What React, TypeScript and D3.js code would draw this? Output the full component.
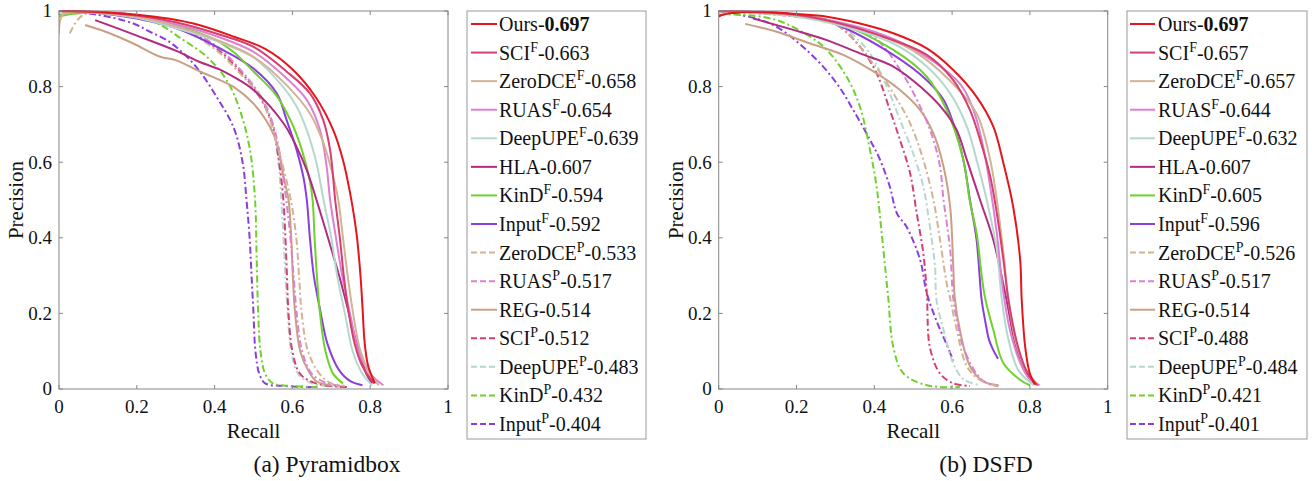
import * as d3 from "d3";

type Pt = [number, number];

// legend order (same in both panels)
const methodKeys = ["ours", "sciF", "zeroF", "ruasF", "deepF", "hla", "kindF", "inputF", "zeroP", "ruasP", "reg", "sciP", "deepP", "kindP", "inputP"];
const methodNames = ["Ours", "SCI", "ZeroDCE", "RUAS", "DeepUPE", "HLA", "KinD", "Input", "ZeroDCE", "RUAS", "REG", "SCI", "DeepUPE", "KinD", "Input"];
const methodSup = ["", "F", "F", "F", "F", "", "F", "F", "P", "P", "", "P", "P", "P", "P"];

const scoresPyramid = ["0.697", "0.663", "0.658", "0.654", "0.639", "0.607", "0.594", "0.592", "0.533", "0.517", "0.514", "0.512", "0.483", "0.432", "0.404"];
const scoresDSFD = ["0.697", "0.657", "0.657", "0.644", "0.632", "0.607", "0.605", "0.596", "0.526", "0.517", "0.514", "0.488", "0.484", "0.421", "0.401"];

// ---- (a) Pyramidbox: [recall, precision]
const oursA: Pt[] = [[0, 1], [0.1, 0.998], [0.2, 0.99], [0.28, 0.98], [0.36, 0.963], [0.45, 0.932], [0.53, 0.9], [0.6, 0.846], [0.66, 0.772], [0.705, 0.685], [0.73, 0.606], [0.748, 0.52], [0.765, 0.41], [0.775, 0.3], [0.78, 0.22], [0.786, 0.12], [0.795, 0.06], [0.812, 0.015]];
const sciFA: Pt[] = [[0, 1], [0.1, 0.997], [0.2, 0.988], [0.3, 0.97], [0.414, 0.937], [0.5, 0.905], [0.585, 0.84], [0.645, 0.782], [0.679, 0.712], [0.697, 0.632], [0.71, 0.5], [0.722, 0.4], [0.732, 0.3], [0.745, 0.2], [0.76, 0.12], [0.78, 0.06], [0.81, 0.015]];
const zeroFA: Pt[] = [[0, 0.94], [0.01, 0.99], [0.1, 0.995], [0.2, 0.985], [0.3, 0.96], [0.414, 0.92], [0.5, 0.879], [0.585, 0.804], [0.645, 0.729], [0.68, 0.65], [0.705, 0.562], [0.718, 0.5], [0.73, 0.4], [0.742, 0.3], [0.756, 0.2], [0.775, 0.1], [0.8, 0.04], [0.822, 0.01]];
const ruasFA: Pt[] = [[0, 1], [0.1, 0.996], [0.2, 0.985], [0.3, 0.965], [0.414, 0.93], [0.5, 0.892], [0.585, 0.822], [0.637, 0.765], [0.671, 0.685], [0.688, 0.588], [0.697, 0.5], [0.712, 0.4], [0.728, 0.3], [0.748, 0.2], [0.77, 0.1], [0.8, 0.04], [0.834, 0.01]];
const deepFA: Pt[] = [[0, 1], [0.1, 0.995], [0.2, 0.982], [0.3, 0.955], [0.414, 0.917], [0.5, 0.877], [0.568, 0.809], [0.611, 0.747], [0.637, 0.685], [0.662, 0.597], [0.68, 0.5], [0.7, 0.4], [0.715, 0.3], [0.735, 0.2], [0.755, 0.1], [0.78, 0.04], [0.805, 0.01]];
const hlaA: Pt[] = [[0.093, 0.976], [0.2, 0.935], [0.3, 0.895], [0.362, 0.865], [0.414, 0.845], [0.45, 0.825], [0.5, 0.791], [0.577, 0.703], [0.611, 0.64], [0.637, 0.579], [0.662, 0.5], [0.697, 0.381], [0.72, 0.3], [0.74, 0.222], [0.76, 0.14], [0.774, 0.09], [0.79, 0.04], [0.805, 0.015]];
const kindFA: Pt[] = [[0, 0.985], [0.05, 0.995], [0.2, 0.985], [0.3, 0.962], [0.4, 0.925], [0.45, 0.89], [0.5, 0.84], [0.56, 0.775], [0.6, 0.7], [0.625, 0.63], [0.645, 0.55], [0.652, 0.5], [0.657, 0.4], [0.663, 0.3], [0.671, 0.2], [0.685, 0.1], [0.705, 0.04], [0.73, 0.015]];
const inputFA: Pt[] = [[0, 1], [0.1, 0.995], [0.2, 0.98], [0.3, 0.955], [0.414, 0.901], [0.5, 0.848], [0.56, 0.782], [0.585, 0.712], [0.611, 0.632], [0.628, 0.562], [0.637, 0.5], [0.645, 0.4], [0.655, 0.3], [0.673, 0.2], [0.69, 0.12], [0.72, 0.05], [0.75, 0.02], [0.78, 0.01]];
const zeroPA: Pt[] = [[0.028, 0.941], [0.063, 0.99], [0.2, 0.985], [0.3, 0.96], [0.4, 0.9], [0.465, 0.835], [0.517, 0.773], [0.542, 0.712], [0.56, 0.65], [0.578, 0.58], [0.596, 0.5], [0.61, 0.4], [0.617, 0.3], [0.624, 0.2], [0.64, 0.1], [0.67, 0.04], [0.7, 0.015], [0.735, 0.008]];
const ruasPA: Pt[] = [[0, 1], [0.2, 0.99], [0.3, 0.965], [0.4, 0.91], [0.47, 0.84], [0.52, 0.77], [0.55, 0.7], [0.568, 0.62], [0.583, 0.51], [0.595, 0.4], [0.603, 0.3], [0.611, 0.2], [0.625, 0.1], [0.65, 0.04], [0.69, 0.015], [0.73, 0.008]];
const regA: Pt[] = [[0.067, 0.963], [0.12, 0.945], [0.191, 0.914], [0.26, 0.879], [0.3, 0.87], [0.362, 0.84], [0.414, 0.817], [0.448, 0.8], [0.5, 0.755], [0.542, 0.694], [0.56, 0.65], [0.577, 0.562], [0.59, 0.5], [0.597, 0.4], [0.601, 0.3], [0.607, 0.2], [0.62, 0.1], [0.64, 0.05], [0.662, 0.02], [0.7, 0.01]];
const sciPA: Pt[] = [[0, 1], [0.2, 0.985], [0.3, 0.96], [0.4, 0.905], [0.47, 0.835], [0.52, 0.765], [0.548, 0.7], [0.563, 0.62], [0.576, 0.51], [0.582, 0.4], [0.586, 0.3], [0.59, 0.2], [0.6, 0.1], [0.62, 0.04], [0.66, 0.015], [0.74, 0.005]];
const deepPA: Pt[] = [[0, 1], [0.2, 0.988], [0.3, 0.962], [0.4, 0.91], [0.475, 0.835], [0.525, 0.765], [0.55, 0.7], [0.562, 0.62], [0.571, 0.51], [0.577, 0.4], [0.582, 0.3], [0.588, 0.2], [0.597, 0.1], [0.615, 0.04], [0.65, 0.015], [0.72, 0.005]];
const kindPA: Pt[] = [[0, 0.99], [0.1, 0.995], [0.234, 0.976], [0.32, 0.923], [0.38, 0.879], [0.431, 0.817], [0.465, 0.738], [0.491, 0.632], [0.504, 0.5], [0.508, 0.35], [0.512, 0.2], [0.518, 0.1], [0.53, 0.04], [0.55, 0.015], [0.6, 0.008], [0.665, 0.005]];
const inputPA: Pt[] = [[0, 1], [0.1, 0.99], [0.191, 0.967], [0.234, 0.945], [0.277, 0.923], [0.32, 0.888], [0.362, 0.84], [0.405, 0.773], [0.448, 0.694], [0.472, 0.6], [0.482, 0.5], [0.49, 0.4], [0.495, 0.3], [0.5, 0.2], [0.505, 0.1], [0.515, 0.04], [0.53, 0.015], [0.58, 0.008], [0.655, 0.005]];

// ---- (b) DSFD
const oursB: Pt[] = [[0, 0.985], [0.01, 0.99], [0.1, 0.998], [0.2, 0.992], [0.278, 0.985], [0.363, 0.967], [0.449, 0.941], [0.535, 0.901], [0.603, 0.844], [0.663, 0.773], [0.706, 0.694], [0.732, 0.597], [0.757, 0.482], [0.775, 0.341], [0.779, 0.235], [0.788, 0.11], [0.8, 0.04], [0.813, 0.012]];
const sciFB: Pt[] = [[0, 1], [0.1, 0.997], [0.2, 0.99], [0.3, 0.97], [0.4, 0.94], [0.535, 0.884], [0.603, 0.817], [0.646, 0.738], [0.672, 0.659], [0.698, 0.562], [0.715, 0.465], [0.732, 0.341], [0.745, 0.235], [0.77, 0.11], [0.795, 0.04], [0.82, 0.01]];
const zeroFB: Pt[] = [[0, 1], [0.2, 0.988], [0.3, 0.968], [0.4, 0.94], [0.5, 0.895], [0.6, 0.81], [0.663, 0.729], [0.698, 0.606], [0.715, 0.5], [0.732, 0.359], [0.745, 0.235], [0.765, 0.12], [0.79, 0.05], [0.82, 0.012]];
const ruasFB: Pt[] = [[0, 1], [0.2, 0.99], [0.3, 0.972], [0.4, 0.945], [0.5, 0.9], [0.62, 0.808], [0.655, 0.738], [0.68, 0.641], [0.698, 0.535], [0.715, 0.412], [0.732, 0.253], [0.75, 0.15], [0.775, 0.07], [0.8, 0.025], [0.825, 0.01]];
const deepFB: Pt[] = [[0, 1], [0.2, 0.985], [0.3, 0.965], [0.449, 0.914], [0.535, 0.853], [0.595, 0.782], [0.638, 0.694], [0.663, 0.606], [0.689, 0.5], [0.715, 0.368], [0.728, 0.235], [0.745, 0.13], [0.77, 0.05], [0.81, 0.01]];
const hlaB: Pt[] = [[0.089, 0.98], [0.192, 0.95], [0.278, 0.923], [0.363, 0.888], [0.449, 0.853], [0.518, 0.8], [0.578, 0.738], [0.612, 0.685], [0.638, 0.606], [0.672, 0.5], [0.706, 0.394], [0.74, 0.235], [0.76, 0.13], [0.785, 0.05], [0.815, 0.012]];
const kindFB: Pt[] = [[0, 1], [0.2, 0.99], [0.3, 0.97], [0.449, 0.897], [0.535, 0.826], [0.586, 0.738], [0.629, 0.606], [0.645, 0.5], [0.663, 0.412], [0.676, 0.3], [0.685, 0.24], [0.706, 0.156], [0.732, 0.068], [0.775, 0.024], [0.8, 0.01]];
const inputFB: Pt[] = [[0, 1], [0.2, 0.99], [0.3, 0.965], [0.449, 0.884], [0.535, 0.817], [0.578, 0.765], [0.603, 0.703], [0.629, 0.606], [0.646, 0.5], [0.663, 0.394], [0.676, 0.235], [0.685, 0.18], [0.695, 0.13], [0.705, 0.105], [0.718, 0.08]];
const zeroPB: Pt[] = [[0, 1], [0.2, 0.99], [0.3, 0.965], [0.398, 0.86], [0.449, 0.782], [0.492, 0.703], [0.526, 0.606], [0.552, 0.5], [0.569, 0.394], [0.586, 0.28], [0.595, 0.24], [0.612, 0.156], [0.638, 0.06], [0.67, 0.025], [0.715, 0.008]];
const ruasPB: Pt[] = [[0, 1], [0.2, 0.99], [0.3, 0.97], [0.4, 0.93], [0.475, 0.83], [0.526, 0.729], [0.552, 0.659], [0.569, 0.588], [0.578, 0.5], [0.595, 0.368], [0.603, 0.24], [0.615, 0.17], [0.629, 0.11], [0.663, 0.04], [0.69, 0.015], [0.719, 0.008]];
const regB: Pt[] = [[0.068, 0.966], [0.149, 0.945], [0.235, 0.914], [0.32, 0.884], [0.406, 0.835], [0.466, 0.791], [0.518, 0.738], [0.552, 0.676], [0.578, 0.588], [0.595, 0.482], [0.603, 0.324], [0.607, 0.24], [0.62, 0.156], [0.646, 0.06], [0.68, 0.02], [0.719, 0.01]];
const sciPB: Pt[] = [[0, 1], [0.2, 0.985], [0.3, 0.965], [0.363, 0.906], [0.406, 0.835], [0.44, 0.738], [0.466, 0.659], [0.492, 0.571], [0.509, 0.465], [0.526, 0.359], [0.535, 0.253], [0.543, 0.11], [0.569, 0.041], [0.603, 0.015], [0.646, 0.008]];
const deepPB: Pt[] = [[0, 1], [0.2, 0.988], [0.3, 0.968], [0.38, 0.9], [0.432, 0.8], [0.466, 0.712], [0.5, 0.623], [0.526, 0.535], [0.543, 0.429], [0.556, 0.324], [0.56, 0.235], [0.578, 0.156], [0.603, 0.068], [0.63, 0.025], [0.672, 0.01]];
const kindPB: Pt[] = [[0, 0.99], [0.063, 0.99], [0.149, 0.976], [0.235, 0.932], [0.278, 0.897], [0.329, 0.826], [0.363, 0.747], [0.389, 0.632], [0.406, 0.535], [0.419, 0.412], [0.432, 0.28], [0.436, 0.24], [0.449, 0.11], [0.475, 0.041], [0.535, 0.01], [0.62, 0.005]];
const inputPB: Pt[] = [[0, 1], [0.132, 0.967], [0.235, 0.888], [0.303, 0.809], [0.346, 0.738], [0.389, 0.659], [0.415, 0.606], [0.44, 0.535], [0.458, 0.465], [0.483, 0.429], [0.518, 0.341], [0.535, 0.253], [0.56, 0.18], [0.585, 0.12], [0.603, 0.075]];

const curvesPyramid = [oursA, sciFA, zeroFA, ruasFA, deepFA, hlaA, kindFA, inputFA, zeroPA, ruasPA, regA, sciPA, deepPA, kindPA, inputPA];
const curvesDSFD = [oursB, sciFB, zeroFB, ruasFB, deepFB, hlaB, kindFB, inputFB, zeroPB, ruasPB, regB, sciPB, deepPB, kindPB, inputPB];

// styling per method
const colorOf: Record<string, string> = {
  Ours: "#e3161c",
  SCI: "#d63f6f",
  ZeroDCE: "#d2b394",
  RUAS: "#dd80d3",
  DeepUPE: "#b5d8ce",
  HLA: "#b12b80",
  KinD: "#6ed22b",
  Input: "#8b3ee0",
  REG: "#c9a084",
};

const FONT = "'Liberation Serif', 'Times New Roman', serif";
const TOP = 11;
const BOTTOM = 389;

function Panel({ id, x0, x1, legendX, legendW, lineX0, lineX1, textX, titleX, title, curves, scores }: any) {
  const x = d3.scaleLinear().domain([0, 1]).range([x0, x1]);
  const y = d3.scaleLinear().domain([0, 1]).range([BOTTOM, TOP]);
  const line = d3
    .line<Pt>()
    .x((d) => x(d[0]))
    .y((d) => y(d[1]))
    .curve(d3.curveCatmullRom.alpha(0.5));
  const fmt = d3.format("~g");
  const xt = x.ticks(5);
  const yt = y.ticks(5);
  const rowY = (i: number) => 24 + i * 28.57;
  const order = d3.range(methodKeys.length).reverse();
  const tick = 4;
  const axisColor = "#868686";

  return (
    <g fontFamily={FONT} fill="#111">
      <defs>
        <clipPath id={"clip-" + id}>
          <rect x={x0} y={TOP - 1} width={x1 - x0} height={BOTTOM - TOP + 1} />
        </clipPath>
      </defs>
      {/* curves */}
      <g clipPath={`url(#clip-${id})`}>
        {order.map((i) => (
          <path
            key={methodKeys[i]}
            d={line(curves[i]) || ""}
            fill="none"
            stroke={colorOf[methodNames[i]]}
            strokeWidth={2}
            strokeDasharray={methodSup[i] === "P" ? "7,3,2,3" : undefined}
            strokeLinejoin="round"
          />
        ))}
      </g>
      {/* box */}
      <rect x={x0} y={TOP} width={x1 - x0} height={BOTTOM - TOP} fill="none" stroke={axisColor} strokeWidth={1} />
      {xt.map((t) => (
        <g key={"x" + t}>
          <line x1={x(t)} x2={x(t)} y1={BOTTOM} y2={BOTTOM - tick} stroke={axisColor} />
          <line x1={x(t)} x2={x(t)} y1={TOP} y2={TOP + tick} stroke={axisColor} />
          <text x={x(t)} y={413} fontSize={19} textAnchor="middle">{fmt(t)}</text>
        </g>
      ))}
      {yt.map((t) => (
        <g key={"y" + t}>
          <line x1={x0} x2={x0 + tick} y1={y(t)} y2={y(t)} stroke={axisColor} />
          <line x1={x1} x2={x1 - tick} y1={y(t)} y2={y(t)} stroke={axisColor} />
          <text x={x0 - 7} y={y(t)} dy="0.34em" fontSize={19} textAnchor="end">{fmt(t)}</text>
        </g>
      ))}
      <text x={(x0 + x1) / 2} y={438} fontSize={21} textAnchor="middle">Recall</text>
      <text transform={`translate(${x0 - 36},${(TOP + BOTTOM) / 2}) rotate(-90)`} fontSize={21} textAnchor="middle">Precision</text>
      <text x={titleX} y={472} fontSize={23.5} textAnchor="middle">{title}</text>
      {/* legend */}
      <rect x={legendX} y={TOP} width={legendW} height={428} fill="#fff" stroke="#9a9a9a" strokeWidth={1} />
      {methodKeys.map((k, i) => (
        <g key={"lg" + k}>
          <line
            x1={lineX0}
            x2={lineX1}
            y1={rowY(i)}
            y2={rowY(i)}
            stroke={colorOf[methodNames[i]]}
            strokeWidth={2}
            strokeDasharray={methodSup[i] === "P" ? "6,3" : undefined}
          />
          <text x={textX} y={rowY(i) + 7} fontSize={20}>
            <tspan>{methodNames[i]}</tspan>
            {methodSup[i] ? (
              <>
                <tspan dy={-8} fontSize={14}>{methodSup[i]}</tspan>
                <tspan dy={8}>-</tspan>
              </>
            ) : (
              <tspan>-</tspan>
            )}
            <tspan fontWeight={i === 0 ? "bold" : "normal"}>{scores[i]}</tspan>
          </text>
        </g>
      ))}
    </g>
  );
}

export default function App() {
  return (
    <svg width={1315} height={481} style={{ position: "absolute", left: 0, top: 0, background: "#fff" }}>
      <Panel id="a" x0={59} x1={448} legendX={467} legendW={179} lineX0={471} lineX1={497} textX={499} titleX={327} title="(a) Pyramidbox" curves={curvesPyramid} scores={scoresPyramid} />
      <Panel id="b" x0={718.7} x1={1107.7} legendX={1127} legendW={180} lineX0={1130} lineX1={1155} textX={1158} titleX={986} title="(b) DSFD" curves={curvesDSFD} scores={scoresDSFD} />
    </svg>
  );
}
